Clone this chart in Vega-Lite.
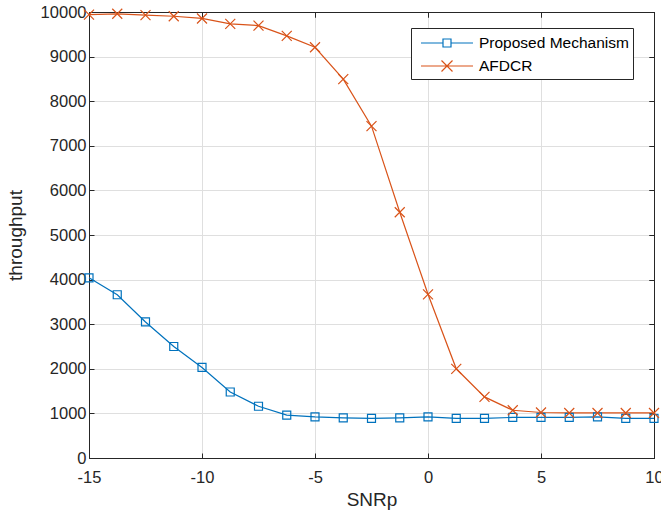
{
 "$schema": "https://vega.github.io/schema/vega-lite/v6.json",
 "width": 565, "height": 446,
 "autosize": "none",
 "padding": {"left": 89, "top": 12, "right": 7, "bottom": 56},
 "background": "white",
 "config": {"font": "Liberation Sans", "view": {"stroke": "#262626", "strokeWidth": 1}},
 "data": {"values": [
  {"snr": -15, "throughput": 4040, "series": "Proposed Mechanism"},
  {"snr": -13.75, "throughput": 3660, "series": "Proposed Mechanism"},
  {"snr": -12.5, "throughput": 3050, "series": "Proposed Mechanism"},
  {"snr": -11.25, "throughput": 2500, "series": "Proposed Mechanism"},
  {"snr": -10, "throughput": 2030, "series": "Proposed Mechanism"},
  {"snr": -8.75, "throughput": 1480, "series": "Proposed Mechanism"},
  {"snr": -7.5, "throughput": 1160, "series": "Proposed Mechanism"},
  {"snr": -6.25, "throughput": 960, "series": "Proposed Mechanism"},
  {"snr": -5, "throughput": 920, "series": "Proposed Mechanism"},
  {"snr": -3.75, "throughput": 900, "series": "Proposed Mechanism"},
  {"snr": -2.5, "throughput": 890, "series": "Proposed Mechanism"},
  {"snr": -1.25, "throughput": 900, "series": "Proposed Mechanism"},
  {"snr": 0, "throughput": 920, "series": "Proposed Mechanism"},
  {"snr": 1.25, "throughput": 890, "series": "Proposed Mechanism"},
  {"snr": 2.5, "throughput": 890, "series": "Proposed Mechanism"},
  {"snr": 3.75, "throughput": 910, "series": "Proposed Mechanism"},
  {"snr": 5, "throughput": 910, "series": "Proposed Mechanism"},
  {"snr": 6.25, "throughput": 910, "series": "Proposed Mechanism"},
  {"snr": 7.5, "throughput": 920, "series": "Proposed Mechanism"},
  {"snr": 8.75, "throughput": 890, "series": "Proposed Mechanism"},
  {"snr": 10, "throughput": 890, "series": "Proposed Mechanism"},
  {"snr": -15, "throughput": 9940, "series": "AFDCR"},
  {"snr": -13.75, "throughput": 9960, "series": "AFDCR"},
  {"snr": -12.5, "throughput": 9930, "series": "AFDCR"},
  {"snr": -11.25, "throughput": 9905, "series": "AFDCR"},
  {"snr": -10, "throughput": 9855, "series": "AFDCR"},
  {"snr": -8.75, "throughput": 9735, "series": "AFDCR"},
  {"snr": -7.5, "throughput": 9695, "series": "AFDCR"},
  {"snr": -6.25, "throughput": 9465, "series": "AFDCR"},
  {"snr": -5, "throughput": 9210, "series": "AFDCR"},
  {"snr": -3.75, "throughput": 8495, "series": "AFDCR"},
  {"snr": -2.5, "throughput": 7440, "series": "AFDCR"},
  {"snr": -1.25, "throughput": 5510, "series": "AFDCR"},
  {"snr": 0, "throughput": 3670, "series": "AFDCR"},
  {"snr": 1.25, "throughput": 2000, "series": "AFDCR"},
  {"snr": 2.5, "throughput": 1370, "series": "AFDCR"},
  {"snr": 3.75, "throughput": 1070, "series": "AFDCR"},
  {"snr": 5, "throughput": 1020, "series": "AFDCR"},
  {"snr": 6.25, "throughput": 1010, "series": "AFDCR"},
  {"snr": 7.5, "throughput": 1010, "series": "AFDCR"},
  {"snr": 8.75, "throughput": 1010, "series": "AFDCR"},
  {"snr": 10, "throughput": 1010, "series": "AFDCR"}
 ]},
 "layer": [
  {
   "mark": {"type": "line", "strokeWidth": 1.2},
   "encoding": {
    "x": {"field": "snr", "type": "quantitative", "scale": {"domain": [-15, 10], "nice": false, "zero": false},
     "axis": {"orient": "bottom", "values": [-15, -10, -5, 0, 5, 10], "labelExpr": "toString(datum.value)", "grid": true, "gridColor": "#dfdfdf", "domainColor": "#262626", "tickColor": "#262626", "tickSize": -5, "labelColor": "#262626", "labelFontSize": 16.5, "labelPadding": 16, "labelFlush": false, "labelOverlap": false, "labelBound": false, "title": "SNRp", "titleFontSize": 19, "titleFontWeight": "normal", "titleColor": "#262626", "titlePadding": 5}},
    "y": {"field": "throughput", "type": "quantitative", "scale": {"domain": [0, 10000], "nice": false},
     "axis": {"orient": "left", "values": [0, 1000, 2000, 3000, 4000, 5000, 6000, 7000, 8000, 9000, 10000], "labelExpr": "toString(datum.value)", "grid": true, "gridColor": "#dfdfdf", "domainColor": "#262626", "tickColor": "#262626", "tickSize": -5, "labelColor": "#262626", "labelFontSize": 16.5, "labelPadding": 8, "labelFlush": false, "labelOverlap": false, "labelBound": false, "title": "throughput", "titleFontSize": 19, "titleFontWeight": "normal", "titleColor": "#262626", "titlePadding": 15}},
    "color": {"field": "series", "type": "nominal", "scale": {"domain": ["Proposed Mechanism", "AFDCR"], "range": ["#0072BD", "#D95319"]},
     "legend": {"orient": "none", "legendX": 322, "legendY": 16, "title": null, "fillColor": "white", "strokeColor": "#262626", "padding": 4, "rowPadding": 3, "labelFontSize": 15.5, "labelColor": "#000000", "symbolSize": 400, "symbolOffset": 21, "symbolStrokeWidth": 1.2, "labelOffset": 21,
      "encode": {"symbols": {"update": {"shape": {"signal": "datum.value === 'AFDCR' ? 'M-2.6,0H2.6M-0.55,-0.55L0.55,0.55M-0.55,0.55L0.55,-0.55' : 'M-2.6,0H-0.4M0.4,0H2.6M-0.4,-0.4H0.4V0.4H-0.4Z'"}, "fill": {"value": "transparent"}}}}}}
   }
  },
  {
   "transform": [{"filter": "datum.series === 'Proposed Mechanism'"}],
   "mark": {"type": "point", "filled": false, "strokeWidth": 1.2, "size": 64, "opacity": 1, "shape": "square"},
   "encoding": {
    "x": {"field": "snr", "type": "quantitative", "axis": {"orient": "top", "values": [-15, -10, -5, 0, 5, 10], "grid": false, "labels": false, "domainColor": "#262626", "tickColor": "#262626", "tickSize": -5, "title": null}},
    "y": {"field": "throughput", "type": "quantitative", "axis": {"orient": "right", "values": [0, 1000, 2000, 3000, 4000, 5000, 6000, 7000, 8000, 9000, 10000], "grid": false, "labels": false, "domainColor": "#262626", "tickColor": "#262626", "tickSize": -5, "title": null}},
    "color": {"field": "series", "type": "nominal", "legend": null}
   }
  },
  {
   "transform": [{"filter": "datum.series === 'AFDCR'"}],
   "mark": {"type": "point", "filled": false, "strokeWidth": 1.2, "size": 64, "opacity": 1, "shape": "M-1.25,-1.25L1.25,1.25M-1.25,1.25L1.25,-1.25"},
   "encoding": {
    "x": {"field": "snr", "type": "quantitative", "axis": {"orient": "top", "values": [-15, -10, -5, 0, 5, 10], "grid": false, "labels": false, "domainColor": "#262626", "tickColor": "#262626", "tickSize": -5, "title": null}},
    "y": {"field": "throughput", "type": "quantitative", "axis": {"orient": "right", "values": [0, 1000, 2000, 3000, 4000, 5000, 6000, 7000, 8000, 9000, 10000], "grid": false, "labels": false, "domainColor": "#262626", "tickColor": "#262626", "tickSize": -5, "title": null}},
    "color": {"field": "series", "type": "nominal", "legend": null}
   }
  }
 ]
}
